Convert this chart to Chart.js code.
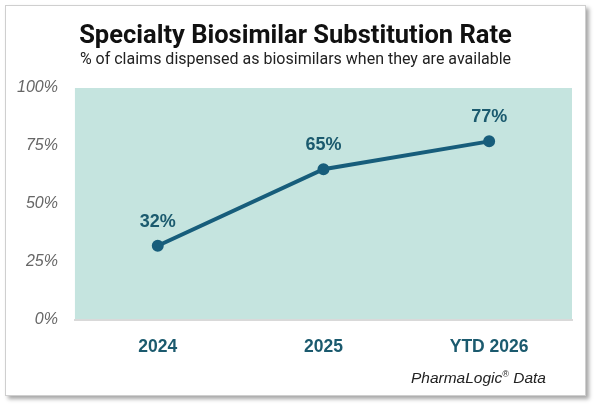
<!DOCTYPE html>
<html>
<head>
<meta charset="utf-8">
<script src="https://cdn.jsdelivr.net/npm/chart.js@4"></script>
<style>
  html, body { margin: 0; padding: 0; background: #ffffff; }
  body { width: 599px; height: 409px; position: relative; overflow: hidden; }
  #card {
    position: absolute; left: 5px; top: 5px; width: 579px; height: 389px;
    border: 1px solid #cfcfcf; background: #fff;
    box-shadow: 3px 3px 4px rgba(0,0,0,0.35);
  }
  #wrap { position: absolute; left: 0; top: 0; width: 599px; height: 409px; }
  .head { position: absolute; left: 5px; width: 581px; text-align: center; font-family: Roboto, sans-serif; }
  #title { top: 19px; font-size: 25.5px; line-height: 30px; font-weight: bold; color: #111; }
  #subtitle { top: 49px; font-size: 16px; line-height: 20px; color: #222; }
  #footer {
    position: absolute; right: 53px; top: 369px;
    font: italic 15.5px "Liberation Sans", Arial, sans-serif; color: #222;
  }
  #footer sup { font-size: 9px; }
</style>
</head>
<body>
<div id="card"></div>
<div id="wrap"><canvas id="rateChart" width="599" height="409"></canvas></div>
<div class="head" id="title">Specialty Biosimilar Substitution Rate</div>
<div class="head" id="subtitle">% of claims dispensed as biosimilars when they are available</div>
<div id="footer">PharmaLogic<sup>®</sup> Data</div>
<script>
// chart data
const periods = ["2024", "2025", "YTD 2026"];
const substitutionRate = [32, 65, 77];
const yTicks = [0, 25, 50, 75, 100];

const lineColor = '#175d7b';
const labelColor = '#1b5a6e';

// paint the teal plot area behind the line
const plotBackground = {
  id: 'plotBackground',
  beforeDraw(chart) {
    const { ctx, chartArea } = chart;
    ctx.save();
    ctx.fillStyle = '#c5e4df';
    ctx.fillRect(chartArea.left, chartArea.top, chartArea.right - chartArea.left, chartArea.bottom - chartArea.top);
    ctx.restore();
  }
};

// percent labels above each point
const pointLabels = {
  id: 'pointLabels',
  afterDatasetsDraw(chart) {
    const { ctx } = chart;
    const meta = chart.getDatasetMeta(0);
    ctx.save();
    ctx.font = 'bold 18px "Liberation Sans", Arial, sans-serif';
    ctx.fillStyle = labelColor;
    ctx.textAlign = 'center';
    ctx.textBaseline = 'middle';
    meta.data.forEach((pt, i) => {
      ctx.fillText(substitutionRate[i] + '%', pt.x, pt.y - 24);
    });
    ctx.restore();
  }
};

new Chart(document.getElementById('rateChart'), {
  type: 'line',
  data: {
    labels: periods,
    datasets: [{
      data: substitutionRate,
      borderColor: lineColor,
      backgroundColor: lineColor,
      borderWidth: 4,
      pointRadius: 4,
      pointHoverRadius: 4,
      fill: false,
      tension: 0
    }]
  },
  options: {
    responsive: false,
    animation: false,
    layout: { padding: { left: 0, right: 27, top: 88, bottom: 34 } },
    plugins: {
      legend: { display: false },
      tooltip: { enabled: false }
    },
    scales: {
      x: {
        offset: true,
        grid: { display: false, drawTicks: false },
        border: { display: true, color: '#d9d9d9', width: 2 },
        ticks: {
          color: labelColor,
          padding: 17,
          font: { family: '"Liberation Sans", Arial, sans-serif', size: 17.5, weight: 'bold' }
        }
      },
      y: {
        min: 0,
        max: 100,
        afterBuildTicks(axis) {
          axis.ticks = yTicks.map(v => ({ value: v }));
        },
        grid: { display: false, drawTicks: false },
        border: { display: false },
        ticks: {
          color: '#666',
          padding: 17,
          font: { family: '"Liberation Sans", Arial, sans-serif', size: 16, style: 'italic' },
          callback: v => v + '%'
        }
      }
    }
  },
  plugins: [plotBackground, pointLabels]
});
</script>
</body>
</html>
